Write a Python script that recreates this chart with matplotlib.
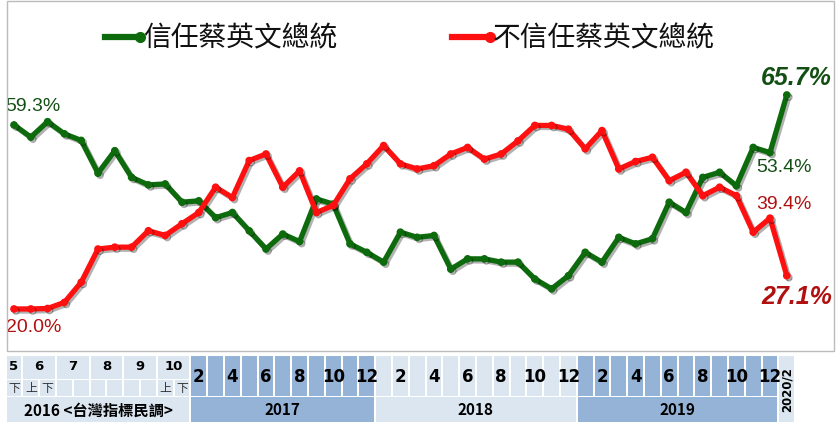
import matplotlib
matplotlib.use("Agg")
import matplotlib.pyplot as plt
import matplotlib.patheffects as pe
from matplotlib.patches import Rectangle

plt.rcParams['font.family'] = ['Noto Sans CJK TC', 'DejaVu Sans']

trust = [59.3, 56.7, 60.0, 57.4, 56.0, 49.0, 53.8, 48.1, 46.5, 46.7, 42.8, 43.1, 39.5, 40.6,
         36.7, 32.8, 36.0, 34.4, 43.5, 42.4, 33.9, 32.1, 30.0, 36.4, 35.3,
         35.7, 28.5, 30.7, 30.7, 30.0, 30.0, 26.4, 24.3, 27.1, 32.1, 30.0, 35.3, 33.9, 35.0,
         42.8, 40.6, 48.1, 49.2, 46.3, 54.5, 53.4, 65.7]
distrust = [20.0, 20.0, 20.1, 21.4, 25.7, 32.8, 33.2, 33.2, 36.7, 35.7, 38.2, 40.6, 46.0, 43.8,
            51.7, 53.1, 46.0, 49.5, 40.6, 42.1, 47.8, 51.0, 54.9, 51.0, 49.9,
            50.6, 53.1, 54.5, 52.0, 53.1, 55.9, 59.2, 59.2, 58.4, 54.2, 58.1, 49.9, 51.5, 52.4,
            47.4, 49.2, 44.2, 46.0, 44.2, 36.4, 39.4, 27.1]
legend_labels = ["信任蔡英文總統", "不信任蔡英文總統"]
sub2016 = ["下", "上", "下", "", "", "", "", "", "", "上", "下"]
groups2016 = [("5", 0, 1), ("6", 1, 3), ("7", 3, 5), ("8", 5, 7), ("9", 7, 9), ("10", 9, 11)]
years = [("2016 <台灣指標民調>", 0, 11), ("2017", 11, 22), ("2018", 22, 34), ("2019", 34, 46)]
month_labels = ["2", "4", "6", "8", "10", "12"]

GREEN = "#0d6b0d"
RED = "#ff1010"
DKGREEN = "#134f13"
DKRED = "#b01010"
LIGHT = "#dce6f1"
MED = "#95b3d7"

W, H = 840, 431
fig = plt.figure(figsize=(8.4, 4.31), dpi=100)
x0, dx = 14, 16.8
xl = (-x0 / dx, (W - x0) / dx)

fig.patches.append(Rectangle((7 / W, 1 - 352 / H), 827 / W, 350 / H, transform=fig.transFigure,
                             fill=False, edgecolor="#bbbbbb", lw=1))

ax = fig.add_axes([0, 1 - 352 / H, 1, 352 / H])
ax.set_xlim(*xl)
ax.set_ylim(65.7 - (352 - 96) * 0.2136, 65.7 + 96 * 0.2136)
ax.axis("off")
xs = list(range(len(trust)))
sh = [pe.SimpleLineShadow(offset=(1.5, -1.5), alpha=0.3), pe.Normal()]
ax.plot(xs, trust, color=GREEN, lw=3.8, marker="o", ms=4.5, path_effects=sh, solid_joinstyle="round")
ax.plot(xs, distrust, color=RED, lw=3.8, marker="o", ms=4.5, path_effects=sh, solid_joinstyle="round")

LF = ['Liberation Sans', 'DejaVu Sans']
ax.text(-0.5, trust[0] + 2.3, f"{trust[0]:.1f}%", color=DKGREEN, fontsize=14, family=LF, va="bottom")
ax.text(-0.5, distrust[0] - 2.0, f"{distrust[0]:.1f}%", color=DKRED, fontsize=14, family=LF, va="top")
ax.text(48.7, trust[-1] + 1.3, f"{trust[-1]:.1f}%", color=DKGREEN, fontsize=18, weight="bold",
        style="italic", family=LF, ha="right", va="bottom")
ax.text(44.2, trust[-2] - 1.2, f"{trust[-2]:.1f}%", color=DKGREEN, fontsize=14, family=LF, va="top")
ax.text(44.2, 42.6, f"{distrust[-2]:.1f}%", color=DKRED, fontsize=14, family=LF, va="center")
ax.text(48.7, distrust[-1] - 1.8, f"{distrust[-1]:.1f}%", color=DKRED, fontsize=18, weight="bold",
        style="italic", family=LF, ha="right", va="top")

for (lx0, lx1, tx, col, lab) in [(105, 140, 143, GREEN, legend_labels[0]), (452, 490, 493, RED, legend_labels[1])]:
    fig.add_artist(plt.Line2D([lx0 / W, lx1 / W], [1 - 38 / H] * 2, color=col, lw=4.5, marker="o", ms=7,
                              markevery=[1], transform=fig.transFigure))
    fig.text(tx / W, 1 - 38 / H, lab, fontsize=20, color="#111111", va="center", weight="medium")

tb = fig.add_axes([0, 0, 1, (H - 352) / H])
tb.set_xlim(*xl)
tb.set_ylim(H, 352)
tb.axis("off")
NF = ['Liberation Sans Narrow', 'DejaVu Sans']
g = 0.06

def cell(a, b, y0, y1, c):
    tb.add_patch(Rectangle((a - 0.5 + g, y0), b - a - 2 * g, y1 - y0, facecolor=c, edgecolor="none"))

for lab, a, b in groups2016:
    cell(a, b, 357, 380, LIGHT)
    tb.text((a + b - 1) / 2 if b - a > 1 else a, 367, lab, ha="center", va="center", fontsize=9.5,
            weight="bold", family=NF)
for i, s in enumerate(sub2016):
    cell(i, i + 1, 381, 397, LIGHT)
    if s:
        tb.text(i, 389, s, ha="center", va="center", fontsize=8.5, color="#333333")
for ys, a in [(2017, 11), (2018, 22), (2019, 34)]:
    n = 11 if ys == 2017 else 12
    col = MED if ys != 2018 else LIGHT
    start_month = 2 if ys == 2017 else 1
    for k in range(n):
        cell(a + k, a + k + 1, 357, 397, col)
        m = start_month + k
        if str(m) in month_labels:
            tb.text(a + k, 377, str(m), ha="center", va="center", fontsize=12, weight="bold", family=NF)
for lab, a, b in years:
    c = MED if lab in ("2017", "2019") else LIGHT
    cell(a, b, 398, 423, c)
    tb.text((a + b - 1) / 2, 410.5, lab, ha="center", va="center", fontsize=11, weight="bold",
            family=['Liberation Sans Narrow', 'Noto Sans CJK TC'])
cell(46, 47, 357, 423, LIGHT)
tb.text(46, 390, "2020/2", ha="center", va="center", rotation=90, fontsize=8.5, weight="bold", family=NF)

fig.savefig("out.png", dpi=100)
